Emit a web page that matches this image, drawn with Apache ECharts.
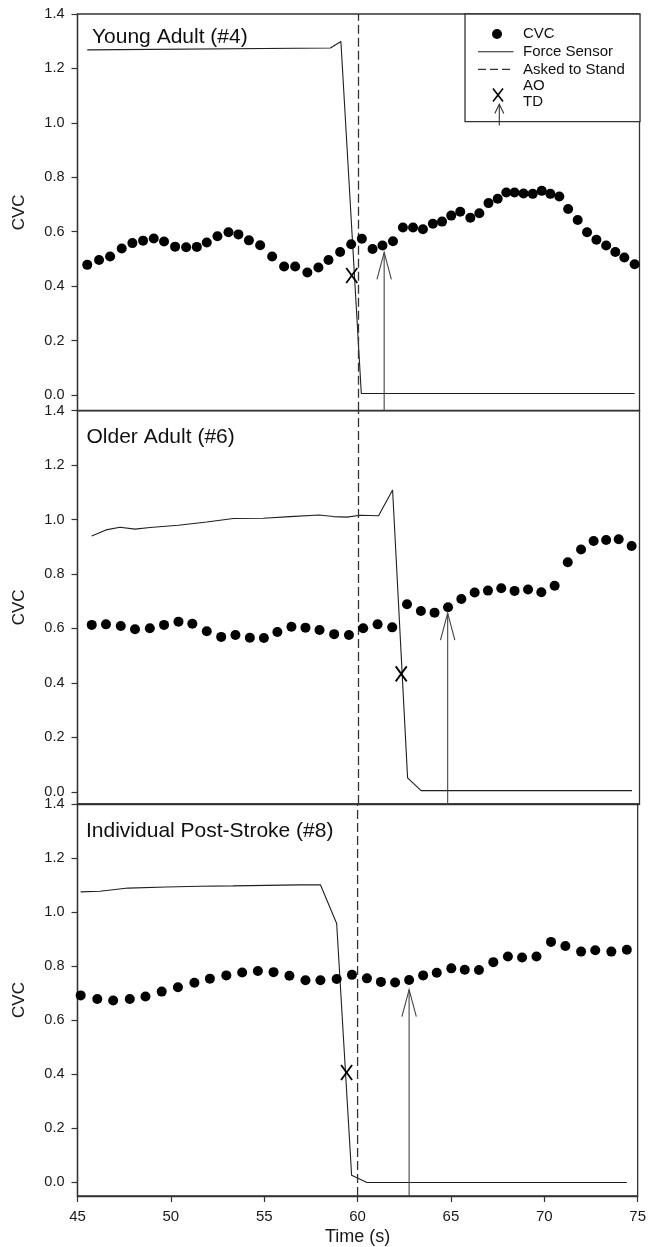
<!DOCTYPE html>
<html>
<head>
<meta charset="utf-8">
<script src="https://cdn.jsdelivr.net/npm/echarts@6/dist/echarts.min.js"></script>
<style>
html,body{margin:0;padding:0;background:#fff;}
#chart{width:649px;height:1247px;}
</style>
</head>
<body>
<div id="chart"></div>
<script>
// ---------------- DATA ----------------
const panelTitles = ['Young Adult (#4)', 'Older Adult (#6)', 'Individual Post-Stroke (#8)'];
const xTicks = [45, 50, 55, 60, 65, 70, 75];
const yTicks = [0, 0.2, 0.4, 0.6, 0.8, 1.0, 1.2, 1.4];
const askedToStand = 60;

// Young Adult (#4)
const cvcYoung = [[45.52,0.478],[46.15,0.496],[46.74,0.509],[47.36,0.538],[47.93,0.558],[48.5,0.567],[49.07,0.575],[49.62,0.564],[50.21,0.545],[50.8,0.543],[51.37,0.544],[51.9,0.560],[52.47,0.583],[53.06,0.598],[53.59,0.590],[54.15,0.568],[54.75,0.550],[55.39,0.509],[56.03,0.472],[56.62,0.472],[57.27,0.450],[57.86,0.468],[58.4,0.496],[59.02,0.525],[59.61,0.554],[60.18,0.574],[60.75,0.536],[61.28,0.549],[61.84,0.565],[62.37,0.615],[62.91,0.615],[63.44,0.609],[63.97,0.629],[64.46,0.637],[64.95,0.659],[65.43,0.673],[65.97,0.651],[66.45,0.668],[66.94,0.705],[67.43,0.721],[67.89,0.744],[68.33,0.744],[68.81,0.740],[69.30,0.739],[69.78,0.750],[70.24,0.739],[70.72,0.729],[71.19,0.683],[71.70,0.643],[72.20,0.598],[72.70,0.570],[73.22,0.549],[73.71,0.525],[74.19,0.505],[74.74,0.480]];
const forceYoung = [[45.52,1.268],[58.5,1.275],[59.06,1.299],[60.15,0.005],[74.74,0.005]];
const aoYoung = [[59.64,0.439]];
const tdYoung = [[61.37,0.524]];

// Older Adult (#6)
const cvcOlder = [[45.76,0.613],[46.52,0.615],[47.31,0.609],[48.07,0.597],[48.86,0.601],[49.62,0.613],[50.39,0.625],[51.13,0.617],[51.9,0.590],[52.67,0.569],[53.43,0.576],[54.20,0.566],[54.95,0.565],[55.67,0.587],[56.42,0.606],[57.17,0.603],[57.92,0.594],[58.70,0.579],[59.49,0.576],[60.25,0.601],[61.02,0.615],[61.80,0.604],[62.59,0.689],[63.33,0.664],[64.06,0.658],[64.78,0.678],[65.49,0.708],[66.20,0.732],[66.91,0.739],[67.62,0.748],[68.33,0.738],[69.05,0.743],[69.76,0.733],[70.47,0.757],[71.17,0.843],[71.88,0.890],[72.55,0.921],[73.22,0.925],[73.89,0.928],[74.58,0.903]];
const forceOlder = [[45.76,0.940],[46.52,0.962],[47.27,0.972],[48.07,0.965],[48.87,0.971],[50.39,0.979],[51.9,0.991],[53.32,1.004],[54.92,1.005],[56.34,1.011],[57.9,1.017],[58.66,1.011],[59.38,1.009],[60.09,1.016],[61.07,1.014],[61.82,1.109],[62.62,0.051],[63.34,0.004],[74.6,0.004]];
const aoOlder = [[62.28,0.433]];
const tdOlder = [[64.76,0.656]];

// Individual Post-Stroke (#8)
const cvcStroke = [[45.17,0.692],[46.06,0.679],[46.91,0.673],[47.80,0.679],[48.64,0.688],[49.51,0.706],[50.38,0.722],[51.26,0.739],[52.09,0.754],[52.97,0.766],[53.82,0.777],[54.66,0.782],[55.50,0.778],[56.35,0.765],[57.21,0.748],[58.01,0.748],[58.88,0.753],[59.70,0.768],[60.50,0.755],[61.25,0.742],[62.01,0.740],[62.76,0.749],[63.51,0.766],[64.24,0.776],[65.02,0.792],[65.74,0.787],[66.50,0.786],[67.27,0.815],[68.05,0.836],[68.81,0.832],[69.58,0.836],[70.36,0.890],[71.13,0.875],[71.97,0.854],[72.73,0.859],[73.59,0.854],[74.42,0.861]];
const forceStroke = [[45.17,1.075],[46.2,1.077],[47.71,1.089],[49.76,1.093],[51.54,1.096],[53.32,1.097],[55.11,1.099],[56.89,1.101],[58.01,1.101],[58.88,0.958],[59.68,0.027],[60.50,0.0],[74.42,0.0]];
const aoStroke = [[59.41,0.407]];
const tdStroke = [[62.76,0.713]];

// ---------------- LAYOUT ----------------
const FONT = '"Liberation Sans", Arial, sans-serif';
const panels = [
  {cvc: cvcYoung, force: forceYoung, ao: aoYoung, td: tdYoung, top: 14, height: 396.7, ymin: -0.058, titleTop: 26.5, titleLeft: 92},
  {cvc: cvcOlder, force: forceOlder, ao: aoOlder, td: tdOlder, top: 410.7, height: 393.3, ymin: -0.045, titleTop: 426.5, titleLeft: 86.5},
  {cvc: cvcStroke, force: forceStroke, ao: aoStroke, td: tdStroke, top: 804, height: 394.4, ymin: -0.05, titleTop: 820.5, titleLeft: 86}
];
const LEFT = 77.5, WIDTH = 562;
const frameColor = '#333';

const grid = [], xAxis = [], yAxis = [], series = [], title = [];
panels.forEach((p, i) => {
  const last = i === panels.length - 1;
  grid.push({left: LEFT, width: WIDTH, top: p.top, height: p.height, show: true,
    borderColor: frameColor, borderWidth: 1.3, backgroundColor: 'transparent'});
  title.push({text: panelTitles[i], left: p.titleLeft, top: p.titleTop, padding: 0,
    textStyle: {fontFamily: FONT, fontSize: 21, fontWeight: 'normal', color: '#111'}});
  xAxis.push({type: 'value', gridIndex: i, min: 45, max: 75, interval: 5, position: 'bottom',
    axisLine: {show: true, onZero: false, lineStyle: {color: frameColor, width: 1.3}},
    axisTick: {show: last, inside: false, length: 6, lineStyle: {color: frameColor, width: 1.2}},
    axisLabel: {show: last, margin: 13, fontFamily: FONT, fontSize: 15, color: '#1a1a1a',
      customValues: xTicks},
    splitLine: {show: false},
    name: last ? 'Time (s)' : '', nameLocation: 'middle', nameGap: 32,
    nameTextStyle: {fontFamily: FONT, fontSize: 18, color: '#1a1a1a'}});
  yAxis.push({type: 'value', gridIndex: i, min: p.ymin, max: 1.4, position: 'left',
    axisLine: {show: true, onZero: false, lineStyle: {color: frameColor, width: 1.3}},
    axisTick: {show: true, length: 6, customValues: yTicks, lineStyle: {color: frameColor, width: 1.2}},
    axisLabel: {customValues: yTicks, margin: 13, fontFamily: FONT, fontSize: 14.5, color: '#1a1a1a',
      formatter: v => Number(v).toFixed(1)},
    splitLine: {show: false},
    name: 'CVC', nameLocation: 'middle', nameGap: 50,
    nameTextStyle: {fontFamily: FONT, fontSize: 17, color: '#1a1a1a'}});

  series.push({name: 'Force Sensor', type: 'line', xAxisIndex: i, yAxisIndex: i, data: p.force,
    showSymbol: false, symbol: 'none', lineStyle: {color: '#1f1f1f', width: 1.1}, z: 2, silent: true});
  series.push({name: 'Asked to Stand', type: 'line', xAxisIndex: i, yAxisIndex: i,
    data: [[askedToStand, p.ymin], [askedToStand, 1.4]], showSymbol: false, symbol: 'none',
    lineStyle: {color: '#333', width: 1.3, type: [9, 4]}, z: 2, silent: true});
  series.push({name: 'CVC', type: 'scatter', xAxisIndex: i, yAxisIndex: i, data: p.cvc,
    symbol: 'circle', symbolSize: 10, itemStyle: {color: '#000', opacity: 1}, z: 3, silent: true});
  series.push({name: 'AO', type: 'custom', xAxisIndex: i, yAxisIndex: i, data: p.ao, z: 4, silent: true,
    renderItem: (params, api) => {
      const c = api.coord([api.value(0), api.value(1)]);
      const w = 5.5, h = 7.5;
      return {type: 'group', children: [
        {type: 'line', shape: {x1: c[0]-w, y1: c[1]-h, x2: c[0]+w, y2: c[1]+h}, style: {stroke: '#000', lineWidth: 1.8}},
        {type: 'line', shape: {x1: c[0]-w, y1: c[1]+h, x2: c[0]+w, y2: c[1]-h}, style: {stroke: '#000', lineWidth: 1.8}}
      ]};
    }});
  series.push({name: 'TD', type: 'custom', xAxisIndex: i, yAxisIndex: i, data: p.td, z: 4, silent: true,
    renderItem: (params, api) => {
      const c = api.coord([api.value(0), api.value(1)]);
      const bottom = params.coordSys.y + params.coordSys.height;
      const st = {stroke: '#444', lineWidth: 1.1, fill: null};
      return {type: 'group', children: [
        {type: 'line', shape: {x1: c[0], y1: c[1], x2: c[0], y2: bottom}, style: st},
        {type: 'polyline', shape: {points: [[c[0]-7.2, c[1]+27], [c[0], c[1]], [c[0]+7.2, c[1]+27]]}, style: st}
      ]};
    }});
});

// Legend (drawn as a boxed key in the top panel)
const LX = 465, LY = 14, LW = 175, LH = 107.7;
const legendRows = ['CVC', 'Force Sensor', 'Asked to Stand', 'AO', 'TD'];
const legendRowY = [34, 51.7, 69.4, 86.2, 101.8];
const graphic = [
  {type: 'rect', shape: {x: LX, y: LY, width: LW, height: LH}, style: {fill: '#fff', stroke: frameColor, lineWidth: 1.3}, z: 10},
  {type: 'circle', shape: {cx: 497, cy: legendRowY[0], r: 5}, style: {fill: '#000'}, z: 11},
  {type: 'line', shape: {x1: 478, y1: legendRowY[1], x2: 513.5, y2: legendRowY[1]}, style: {stroke: '#1f1f1f', lineWidth: 1.1}, z: 11},
  {type: 'line', shape: {x1: 478, y1: legendRowY[2], x2: 513.5, y2: legendRowY[2]}, style: {stroke: '#333', lineWidth: 1.3, lineDash: [8, 4]}, z: 11},
  {type: 'line', shape: {x1: 493, y1: 88.5, x2: 503, y2: 101.5}, style: {stroke: '#000', lineWidth: 1.6}, z: 11},
  {type: 'line', shape: {x1: 493, y1: 101.5, x2: 503, y2: 88.5}, style: {stroke: '#000', lineWidth: 1.6}, z: 11},
  {type: 'line', shape: {x1: 499.3, y1: 104.3, x2: 499.3, y2: 125.5}, style: {stroke: '#333', lineWidth: 1.1}, z: 11},
  {type: 'polyline', shape: {points: [[494.8, 113.5], [499.3, 104.3], [503.8, 113.5]]}, style: {stroke: '#333', lineWidth: 1.1, fill: null}, z: 11}
];
legendRows.forEach((t, k) => {
  graphic.push({type: 'text', x: 523, y: legendRowY[k], z: 11,
    style: {text: t, fontFamily: FONT, fontSize: 15, fill: '#111', verticalAlign: 'middle', align: 'left'}});
});

const chart = echarts.init(document.getElementById('chart'), null, {renderer: 'canvas'});
chart.setOption({
  backgroundColor: '#fff',
  animation: false,
  title, grid, xAxis, yAxis, series, graphic
});
</script>
</body>
</html>
